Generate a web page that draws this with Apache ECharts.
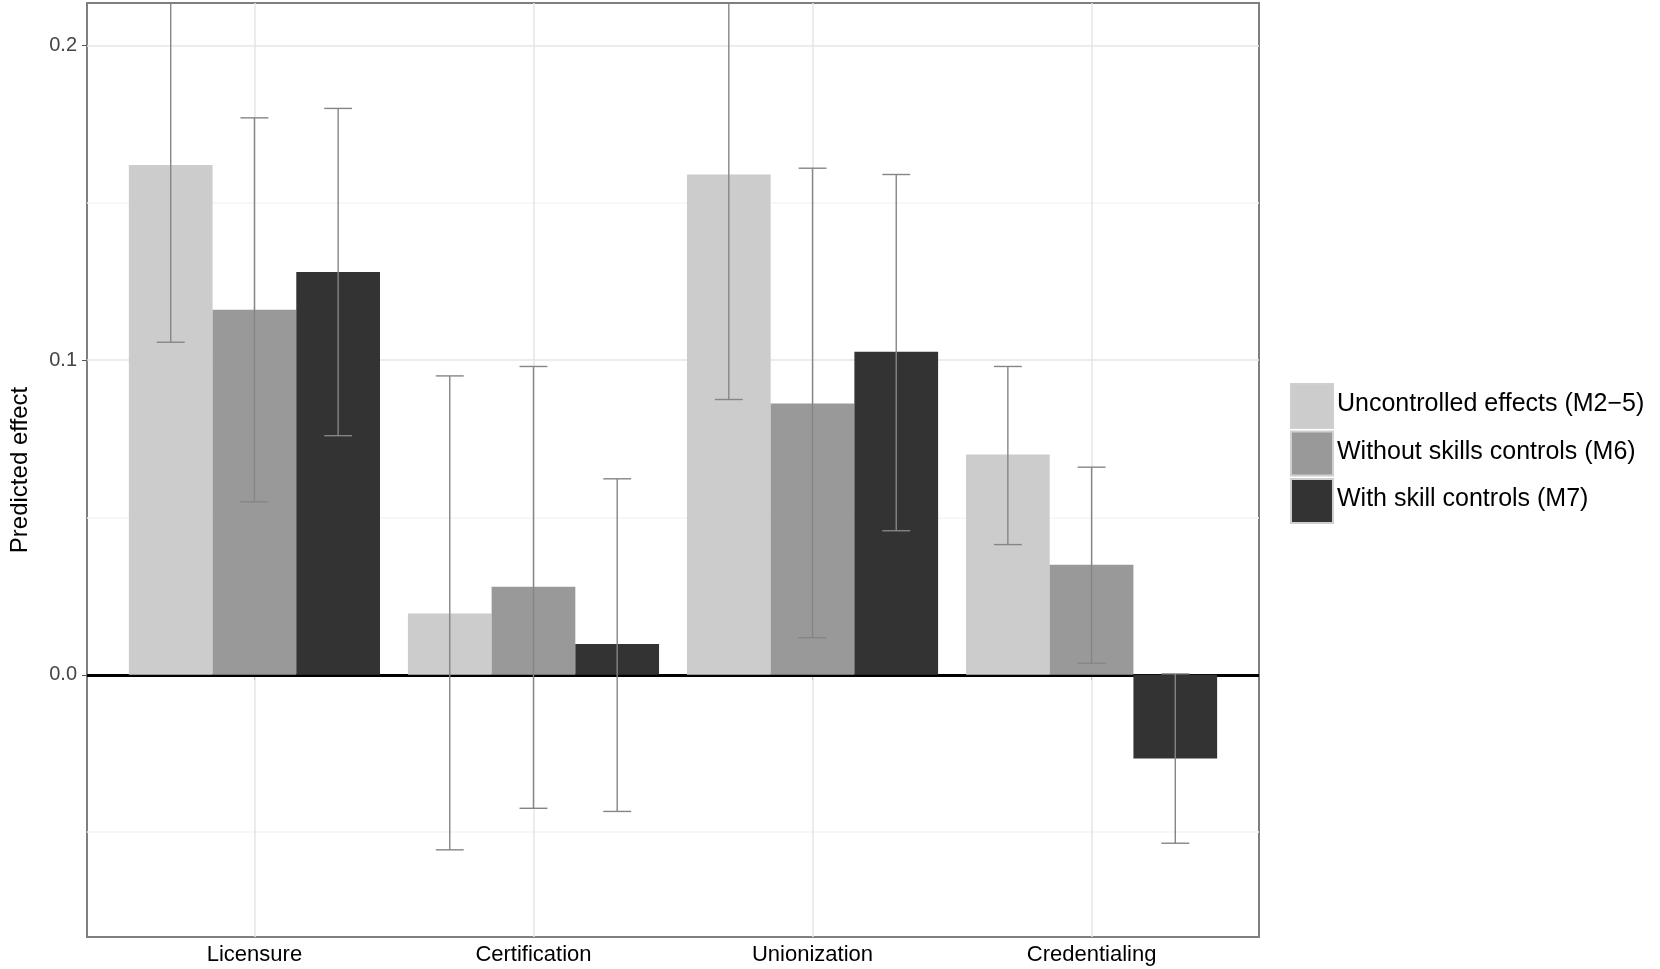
<!DOCTYPE html>
<html>
<head>
<meta charset="utf-8">
<script src="https://cdn.jsdelivr.net/npm/echarts@6/dist/echarts.min.js"></script>
<style>html,body{margin:0;padding:0;background:#fff}#c{width:1660px;height:969px}</style>
</head>
<body>
<div id="c"></div>
<script>
// categories and series values
const categories = ['Licensure', 'Certification', 'Unionization', 'Credentialing'];
const seriesNames = ['Uncontrolled effects (M2\u22125)', 'Without skills controls (M6)', 'With skill controls (M7)'];
const colors = ['#cccccc', '#999999', '#333333'];

const uncontrolled = [0.162, 0.0195, 0.159, 0.070];
const uncontrolledLow = [0.1057, -0.0556, 0.0875, 0.0414];
const uncontrolledHigh = [0.218, 0.095, 0.231, 0.098];

const withoutSkills = [0.116, 0.028, 0.0862, 0.035];
const withoutSkillsLow = [0.055, -0.0424, 0.0118, 0.0037];
const withoutSkillsHigh = [0.177, 0.098, 0.161, 0.066];

const withSkills = [0.128, 0.0098, 0.1027, -0.0266];
const withSkillsLow = [0.076, -0.0434, 0.0458, -0.0535];
const withSkillsHigh = [0.180, 0.0623, 0.159, 0.0003];

const yLabels = [0.0, 0.1, 0.2];
const majorGrid = [0.0, 0.1, 0.2];
const minorGrid = [-0.05, 0.05, 0.15];

const values = [uncontrolled, withoutSkills, withSkills];
const lows = [uncontrolledLow, withoutSkillsLow, withSkillsLow];
const highs = [uncontrolledHigh, withoutSkillsHigh, withSkillsHigh];

const BAR_W = 0.3;
const WHISK = 0.05;

function barSeries(k) {
    return {
        type: 'custom',
        name: seriesNames[k],
        data: values[k].map((v, i) => [i + 1, v]),
        renderItem: (params, api) => {
            const x = api.value(0) + (k - 1) * BAR_W;
            const p0 = api.coord([x - BAR_W / 2, 0]);
            const p1 = api.coord([x + BAR_W / 2, api.value(1)]);
            return {
                type: 'rect',
                shape: { x: p0[0], y: Math.min(p0[1], p1[1]), width: p1[0] - p0[0], height: Math.abs(p1[1] - p0[1]) },
                style: { fill: colors[k] }
            };
        },
        zlevel: 1
    };
}

function errSeries(k) {
    return {
        type: 'custom',
        data: values[k].map((v, i) => [i + 1, lows[k][i], highs[k][i]]),
        renderItem: (params, api) => {
            const x = api.value(0) + (k - 1) * BAR_W;
            const lo = api.coord([x, api.value(1)]);
            const hi = api.coord([x, api.value(2)]);
            const wl = api.coord([x - WHISK, 0])[0];
            const wr = api.coord([x + WHISK, 0])[0];
            const st = { stroke: '#858585', lineWidth: 1.4 };
            return {
                type: 'group',
                children: [
                    { type: 'line', shape: { x1: lo[0], y1: lo[1], x2: hi[0], y2: hi[1] }, style: st },
                    { type: 'line', shape: { x1: wl, y1: lo[1], x2: wr, y2: lo[1] }, style: st },
                    { type: 'line', shape: { x1: wl, y1: hi[1], x2: wr, y2: hi[1] }, style: st }
                ]
            };
        },
        clip: true,
        zlevel: 1,
        z: 3
    };
}

const gridLines = {
    type: 'line',
    data: [],
    silent: true,
    markLine: {
        silent: true,
        symbol: 'none',
        label: { show: false },
        data: [
            ...minorGrid.map(v => ({ yAxis: v, lineStyle: { color: '#f4f4f4', width: 1.5, type: 'solid' } })),
            ...majorGrid.map(v => ({ yAxis: v, lineStyle: { color: '#e6e6e6', width: 1.5, type: 'solid' } })),
            ...categories.map((c, i) => ({ xAxis: i + 1, lineStyle: { color: '#e6e6e6', width: 1.5, type: 'solid' } }))
        ]
    }
};

const zeroLine = {
    type: 'line',
    data: [],
    silent: true,
    zlevel: 1,
    z: 5,
    markLine: {
        silent: true,
        symbol: 'none',
        label: { show: false },
        data: [{ yAxis: 0, lineStyle: { color: '#000', width: 3, type: 'solid' } }]
    }
};

const chart = echarts.init(document.getElementById('c'));

const legendX = 1290, legendY0 = 383, legendStep = 47.5;
const legendGraphics = [];
seriesNames.forEach((n, k) => {
    const y = legendY0 + k * legendStep;
    legendGraphics.push({
        type: 'rect', left: legendX, top: y, shape: { width: 42, height: 44 },
        style: { fill: colors[k], stroke: '#cfcfcf', lineWidth: 2 }
    });
    legendGraphics.push({
        type: 'text', left: legendX + 47, top: y + 9,
        style: { text: n, font: '25px "Liberation Sans", Arial, sans-serif', fill: '#000' }
    });
});

chart.setOption({
    animation: false,
    grid: { left: 81, right: 401, top: 3, bottom: 32, show: true, borderColor: '#7f7f7f', borderWidth: 2 },
    xAxis: {
        type: 'value', min: 0.4, max: 4.6,
        splitLine: { show: false },
        axisLine: { show: false },
        axisTick: { show: true, customValues: [1, 2, 3, 4], length: 5, lineStyle: { color: '#555' } },
        axisLabel: {
            customValues: [1, 2, 3, 4],
            formatter: v => categories[Math.round(v) - 1] || '',
            color: '#000', fontSize: 22, fontFamily: 'Liberation Sans, Arial, sans-serif', margin: 7
        }
    },
    yAxis: {
        type: 'value', min: -0.0833, max: 0.2135,
        name: 'Predicted effect', nameLocation: 'middle', nameGap: 55,
        nameTextStyle: { color: '#000', fontSize: 24, fontFamily: 'Liberation Sans, Arial, sans-serif' },
        splitLine: { show: false },
        axisLine: { show: false },
        axisTick: { show: true, customValues: yLabels, length: 5, lineStyle: { color: '#555' } },
        axisLabel: {
            customValues: yLabels,
            formatter: v => v.toFixed(1),
            color: '#444', fontSize: 20, fontFamily: 'Liberation Sans, Arial, sans-serif', margin: 10
        }
    },
    graphic: legendGraphics,
    series: [gridLines, barSeries(0), barSeries(1), barSeries(2), errSeries(0), errSeries(1), errSeries(2), zeroLine]
});
</script>
</body>
</html>
